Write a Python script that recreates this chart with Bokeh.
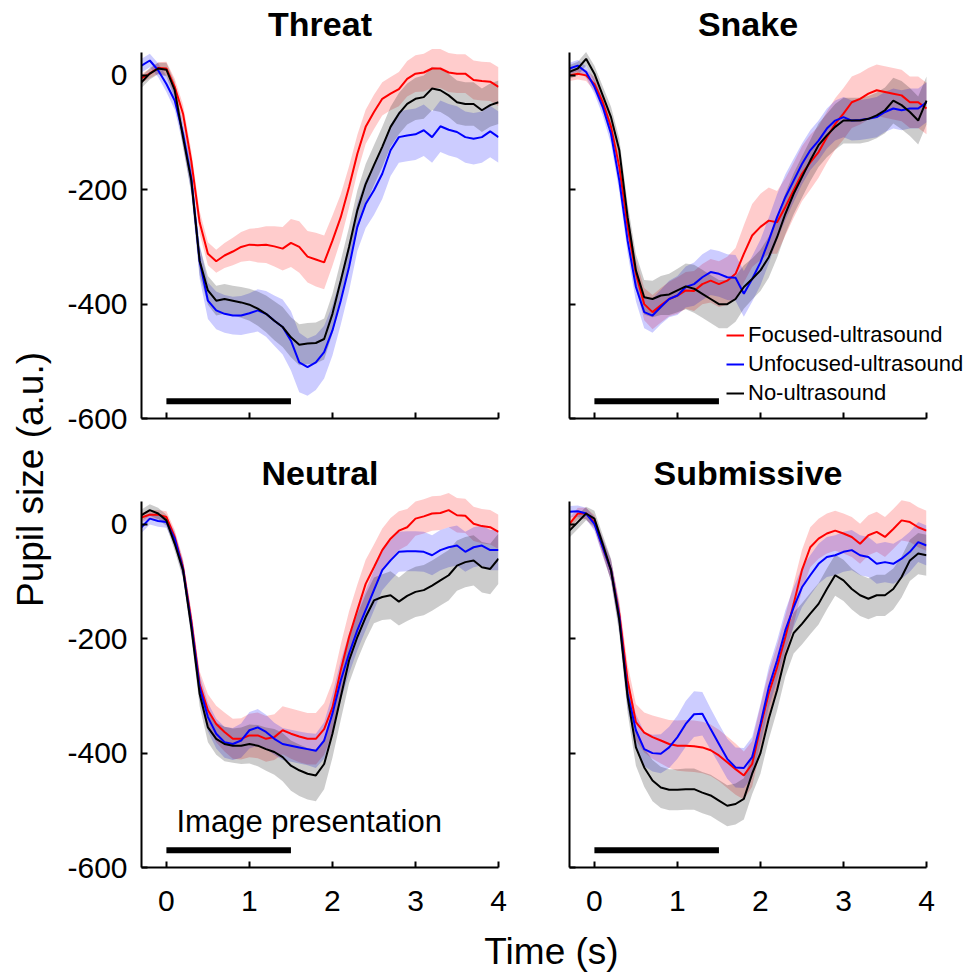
import numpy as np
from bokeh.plotting import figure
from bokeh.models import Range1d, FixedTicker, CustomJSTickFormatter, Label, Legend, LegendItem
from bokeh.layouts import row, column
from bokeh.embed import file_html
from bokeh.resources import INLINE

FONT = "Liberation Sans"

# ---------------- data ----------------
time_s = [-0.3, -0.2, -0.1, 0.0, 0.1, 0.2, 0.3, 0.4, 0.5, 0.6, 0.7, 0.8, 0.9, 1.0,
          1.1, 1.2, 1.3, 1.4, 1.5, 1.6, 1.7, 1.8, 1.9, 2.0, 2.1, 2.2, 2.3, 2.4,
          2.5, 2.6, 2.7, 2.8, 2.9, 3.0, 3.1, 3.2, 3.3, 3.4, 3.5, 3.6, 3.7, 3.8, 3.9, 4.0]

series_names = ["Focused-ultrasound", "Unfocused-ultrasound", "No-ultrasound"]
panel_titles = ["Threat", "Snake", "Neutral", "Submissive"]
x_ticks = [0, 1, 2, 3, 4]
y_ticks = [0, -200, -400, -600]
stim_window = [0.0, 1.5]
stim_level = -570
stim_text = "Image presentation"

# Threat
threat_focused = [-5, 3, 13, 12, -20, -67, -150, -257, -312, -325, -315, -308, -300, -296,
                  -297, -296, -299, -303, -293, -300, -317, -322, -327, -289,
                  -248, -195, -137, -90, -64, -41, -32, -24, -6, 3,
                  5, 12, 12, 5, 3, 3, -8, -10, -11, -20]
threat_unfocused = [17, 26, 9, -15, -44, -102, -180, -325, -394, -411, -417, -420, -420, -416,
                    -411, -417, -429, -440, -464, -502, -510, -502, -484, -446,
                    -394, -335, -265, -225, -201, -172, -131, -108, -105, -103,
                    -96, -108, -89, -95, -99, -108, -111, -108, -98, -108]
threat_none = [-12, 3, 12, 10, -26, -108, -184, -324, -376, -394, -391, -394, -397, -401,
               -408, -417, -429, -440, -458, -471, -469, -468, -461, -417,
               -359, -300, -236, -190, -157, -125, -90, -67, -50, -41,
               -38, -23, -26, -35, -47, -50, -50, -61, -52, -47]
threat_focused_sem = [8, 8, 10, 12, 14, 16, 18, 20, 20, 20, 22, 24, 26, 28,
                      30, 32, 35, 38, 42, 45, 45, 47, 47, 44,
                      40, 36, 33, 30, 30, 29, 29, 30, 31, 32,
                      33, 34, 34, 34, 34, 34, 34, 34, 34, 34]
threat_unfocused_sem = [12, 12, 12, 14, 16, 20, 25, 30, 32, 33, 33, 33, 34, 35,
                        37, 40, 44, 48, 52, 52, 50, 48, 46, 44,
                        42, 42, 42, 42, 43, 44, 45, 45, 45, 45,
                        45, 45, 45, 45, 45, 45, 45, 45, 45, 45]
threat_none_sem = [10, 10, 10, 12, 15, 18, 22, 25, 25, 26, 26, 26, 27, 28,
                   30, 32, 34, 35, 35, 36, 36, 36, 36, 35,
                   35, 35, 35, 35, 35, 35, 35, 36, 36, 37,
                   38, 38, 38, 38, 38, 38, 38, 38, 38, 38]

# Snake
snake_focused = [0, 3, 0, -15, -47, -90, -160, -265, -347, -400, -414, -402, -391, -385,
                 -376, -377, -365, -359, -365, -359, -347, -312, -280, -265,
                 -254, -257, -230, -201, -172, -152, -134, -108, -85, -67,
                 -47, -41, -32, -26, -29, -32, -35, -47, -47, -58]
snake_unfocused = [12, 17, 6, -20, -55, -102, -184, -289, -370, -414, -420, -405, -391, -385,
                   -370, -365, -353, -344, -347, -353, -354, -382, -356, -327,
                   -289, -248, -213, -184, -155, -131, -114, -93, -79, -73,
                   -79, -78, -76, -73, -64, -58, -61, -58, -58, -47]
snake_none = [6, 12, 29, 3, -35, -73, -131, -248, -341, -388, -391, -385, -383, -376,
              -369, -373, -382, -391, -400, -400, -391, -370, -356, -341,
              -318, -283, -242, -207, -178, -149, -122, -105, -90, -79,
              -79, -79, -76, -70, -61, -44, -52, -64, -79, -44]
snake_focused_sem = [10, 10, 10, 12, 15, 18, 20, 22, 25, 28, 30, 30, 30, 32,
                     32, 35, 35, 38, 40, 42, 45, 50, 55, 58,
                     58, 55, 50, 48, 48, 48, 45, 45, 45, 45,
                     45, 45, 45, 45, 45, 45, 45, 45, 45, 45]
snake_unfocused_sem = [10, 10, 10, 12, 15, 18, 20, 22, 25, 28, 30, 30, 32, 34,
                       36, 38, 40, 40, 40, 40, 40, 40, 40, 40,
                       40, 40, 40, 38, 36, 35, 35, 35, 35, 35,
                       35, 35, 35, 35, 35, 35, 35, 35, 35, 35]
snake_none_sem = [12, 12, 12, 14, 16, 18, 20, 24, 28, 30, 32, 34, 36, 38,
                  40, 42, 42, 42, 42, 42, 40, 38, 36, 36,
                  36, 36, 36, 36, 36, 36, 38, 38, 40, 40,
                  40, 40, 40, 40, 40, 40, 42, 42, 42, 42]

# Neutral
neutral_focused = [12, 17, 17, 13, -22, -75, -168, -279, -325, -349, -363, -375, -375, -369,
                   -369, -375, -372, -360, -366, -371, -375, -375, -358, -320,
                   -255, -197, -150, -104, -75, -45, -25, -11, -5, 10,
                   14, 19, 20, 25, 16, 15, 1, -3, -5, -13]
neutral_unfocused = [-5, 10, 6, 4, -25, -78, -174, -285, -337, -366, -381, -384, -378, -360,
                     -355, -363, -375, -384, -387, -390, -393, -396, -378, -331,
                     -273, -226, -185, -150, -115, -80, -63, -48, -47, -47,
                     -48, -54, -45, -40, -37, -48, -40, -37, -45, -45]
neutral_none = [16, 25, 19, 7, -34, -80, -180, -296, -355, -375, -384, -387, -387, -384,
                -387, -393, -398, -407, -422, -430, -436, -439, -419, -366,
                -302, -238, -197, -162, -133, -127, -124, -135, -125, -118,
                -115, -107, -98, -89, -72, -66, -63, -75, -78, -60]
neutral_focused_sem = [8, 8, 8, 10, 12, 15, 18, 22, 28, 32, 34, 35, 36, 38,
                       40, 40, 40, 42, 44, 45, 45, 45, 45, 45,
                       45, 45, 45, 42, 40, 38, 36, 34, 32, 30,
                       30, 30, 30, 30, 30, 30, 30, 30, 30, 30]
neutral_unfocused_sem = [10, 10, 10, 10, 12, 15, 18, 22, 25, 26, 27, 28, 30, 32,
                         32, 30, 28, 28, 28, 28, 28, 30, 32, 34,
                         35, 35, 35, 35, 35, 35, 35, 35, 35, 35,
                         35, 35, 35, 35, 35, 35, 35, 35, 35, 35]
neutral_none_sem = [10, 10, 10, 10, 12, 15, 18, 22, 26, 28, 30, 30, 32, 34,
                    36, 38, 40, 42, 44, 45, 45, 45, 44, 42,
                    40, 40, 40, 40, 40, 40, 42, 42, 44, 44,
                    44, 44, 44, 44, 44, 44, 44, 44, 44, 44]

# Submissive
subm_focused = [1, 19, 19, 4, -40, -80, -156, -273, -346, -364, -372, -378, -384, -387,
                -387, -388, -390, -395, -404, -416, -428, -439, -419, -355,
                -296, -250, -197, -139, -80, -40, -25, -16, -11, -16,
                -22, -34, -19, -13, -22, -8, 7, 4, -5, -11]
subm_unfocused = [22, 23, 19, 1, -40, -80, -162, -296, -360, -393, -400, -401, -390, -372,
                  -349, -332, -331, -358, -384, -410, -425, -426, -407, -349,
                  -285, -238, -185, -145, -110, -89, -69, -57, -54, -48,
                  -45, -54, -57, -69, -66, -69, -60, -48, -31, -37]
subm_none = [-11, 4, 19, 10, -34, -80, -168, -302, -390, -425, -448, -460, -464, -464,
             -463, -463, -469, -474, -483, -492, -489, -480, -436, -400,
             -340, -290, -230, -190, -174, -156, -139, -113, -89, -98,
             -113, -124, -130, -124, -124, -113, -92, -63, -51, -54]
subm_focused_sem = [10, 10, 10, 12, 15, 18, 22, 28, 32, 35, 38, 40, 42, 44,
                    45, 45, 45, 45, 45, 45, 45, 42, 40, 38,
                    38, 38, 38, 36, 35, 35, 35, 35, 35, 35,
                    35, 35, 35, 35, 35, 35, 35, 35, 35, 35]
subm_unfocused_sem = [10, 10, 10, 12, 15, 18, 22, 26, 28, 30, 32, 34, 36, 38,
                      40, 40, 38, 36, 35, 35, 35, 35, 35, 35,
                      35, 35, 35, 35, 35, 35, 35, 35, 35, 35,
                      35, 35, 35, 35, 35, 35, 35, 35, 35, 35]
subm_none_sem = [12, 12, 12, 14, 16, 20, 24, 28, 32, 34, 36, 36, 36, 36,
                 36, 36, 36, 36, 36, 36, 36, 36, 36, 36,
                 36, 36, 36, 36, 36, 36, 36, 36, 36, 36,
                 36, 36, 36, 36, 36, 36, 36, 36, 36, 36]

colors = ["#ff0000", "#0000ff", "#000000"]

panel_data = {
    "Threat": [(threat_focused, threat_focused_sem), (threat_unfocused, threat_unfocused_sem), (threat_none, threat_none_sem)],
    "Snake": [(snake_focused, snake_focused_sem), (snake_unfocused, snake_unfocused_sem), (snake_none, snake_none_sem)],
    "Neutral": [(neutral_focused, neutral_focused_sem), (neutral_unfocused, neutral_unfocused_sem), (neutral_none, neutral_none_sem)],
    "Submissive": [(subm_focused, subm_focused_sem), (subm_unfocused, subm_unfocused_sem), (subm_none, subm_none_sem)],
}

# ---------------- geometry ----------------
X0, X1 = -0.3, 4.0
Y0, Y1 = -600, 40
FW = 357                 # axis width in px (-0.3 .. 4 s)
FH = 366                 # axis height in px (-600 .. 40)
UPP = (Y1 - Y0) / FH     # data units per px (y)
SPP = (X1 - X0) / FW     # seconds per px (x)
BASE_FIX = 0.3           # label baseline correction, in em


def fix_y(font_px):
    return BASE_FIX * font_px * UPP


label_fmt = CustomJSTickFormatter(code="return tick.toFixed(0)")
empty_fmt = CustomJSTickFormatter(code="return ''")


def make_panel(title, show_x_labels, show_y_labels, mb_left, mb_right, top_px, mb_bottom,
               extra_right_px=0, with_legend=False, with_text=False):
    y_top = Y1 + top_px * UPP
    x_right = X1 + extra_right_px * SPP
    p = figure(frame_width=FW + extra_right_px, frame_height=FH + top_px,
               x_range=Range1d(X0, x_right), y_range=Range1d(Y0, y_top),
               output_backend="svg", toolbar_location=None,
               min_border_left=mb_left, min_border_right=mb_right,
               min_border_top=0, min_border_bottom=mb_bottom)
    p.outline_line_color = None
    p.grid.visible = False
    p.background_fill_color = "white"
    p.border_fill_color = "white"

    for ax, ticks, show, bounds in ((p.xaxis[0], x_ticks, show_x_labels, (X0, X1)),
                                    (p.yaxis[0], y_ticks, show_y_labels, (Y0, Y1))):
        ax.ticker = FixedTicker(ticks=ticks)
        ax.bounds = bounds
        ax.axis_line_width = 2
        ax.axis_line_color = "black"
        ax.major_tick_line_width = 2
        ax.major_tick_line_color = "black"
        ax.major_tick_in = 6
        ax.major_tick_out = 0
        ax.minor_tick_line_color = None
        ax.major_label_text_font = FONT
        ax.major_label_text_color = "black"
        if show:
            ax.formatter = label_fmt
            ax.major_label_text_font_size = "30px"
        else:
            ax.formatter = empty_fmt
            ax.major_label_text_font_size = "1px"
            ax.major_label_standoff = 0
    if show_y_labels:
        p.yaxis[0].major_label_standoff = 14
    if show_x_labels:
        p.xaxis[0].major_label_standoff = 23

    t = np.array(time_s, dtype=float)
    for (m, s), c in zip(panel_data[title], colors):
        m = np.array(m, dtype=float)
        s = np.array(s, dtype=float)
        p.varea(x=t, y1=m - s, y2=m + s, fill_color=c, fill_alpha=0.2)
    rends = []
    for (m, s), c in zip(panel_data[title], colors):
        rends.append(p.line(t, m, line_color=c, line_width=2))

    p.line(stim_window, [stim_level, stim_level], line_color="black", line_width=6, line_cap="butt")

    p.add_layout(Label(x=(X0 + X1) / 2, y=Y1 + 18.5 * UPP + fix_y(34), text=title,
                       text_align="center", text_baseline="alphabetic",
                       text_font=FONT, text_font_style="bold", text_font_size="34px",
                       text_color="black"))
    if with_text:
        p.add_layout(Label(x=X0 + 35 * SPP, y=Y0 + 37 * UPP + fix_y(31), text=stim_text,
                           text_align="left", text_baseline="alphabetic", text_font=FONT,
                           text_font_size="31px", text_color="black"))
    if with_legend:
        items = [LegendItem(label=n, renderers=[r]) for n, r in zip(series_names, rends)]
        leg = Legend(items=items, location=(157, 12), border_line_color=None,
                     background_fill_alpha=0, padding=0, margin=0, spacing=3,
                     glyph_width=18, glyph_height=24, label_height=24, label_standoff=4,
                     label_text_font=FONT, label_text_font_size="22px",
                     label_text_color="black")
        p.add_layout(leg)
    return p


tl = make_panel("Threat", False, True, 81, 35, 52, 37)
tr = make_panel("Snake", False, False, 36, 0, 52, 37, extra_right_px=40, with_legend=True)
bl = make_panel("Neutral", True, True, 81, 35, 46, 64, with_text=True)
br = make_panel("Submissive", True, False, 36, 40, 46, 64)

XLAB_H = 42
TOTAL_H = 931 + XLAB_H
YLAB_W = 60
ylab = figure(width=YLAB_W, height=TOTAL_H, x_range=Range1d(0, YLAB_W), y_range=Range1d(0, TOTAL_H),
              output_backend="svg", toolbar_location=None, min_border=0,
              x_axis_location=None, y_axis_location=None)
ylab.outline_line_color = None
ylab.grid.visible = False
ylab.add_layout(Label(x=41 - BASE_FIX * 37, y=TOTAL_H - 479, text="Pupil size (a.u.)",
                      angle=90, angle_units="deg",
                      text_align="center", text_baseline="alphabetic", text_font=FONT,
                      text_font_size="37px", text_color="black"))

xlab = figure(width=906, height=XLAB_H, x_range=Range1d(0, 906), y_range=Range1d(0, XLAB_H),
              output_backend="svg", toolbar_location=None, min_border=0,
              x_axis_location=None, y_axis_location=None)
xlab.outline_line_color = None
xlab.grid.visible = False
xlab.add_layout(Label(x=491, y=XLAB_H - 31 + BASE_FIX * 37, text="Time (s)", text_align="center",
                      text_baseline="alphabetic", text_font=FONT,
                      text_font_size="37px", text_color="black"))

root = row(ylab, column(row(tl, tr), row(bl, br), xlab))

open("out.html", "w").write(file_html(root, INLINE))
